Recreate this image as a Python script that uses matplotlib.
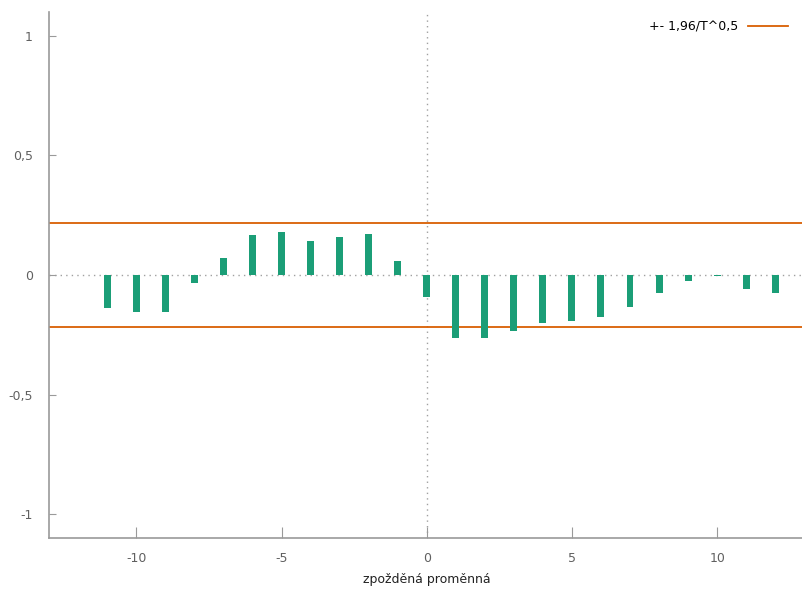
import matplotlib
matplotlib.use("Agg")
import matplotlib.pyplot as plt
from matplotlib.ticker import FuncFormatter

# Kreuzkorrelogramm (gretl-Stil)
zpozdeni = list(range(-11, 13))
korelace = [-0.140, -0.156, -0.155, -0.035, 0.070, 0.165, 0.181, 0.141,
            0.159, 0.170, 0.060, -0.091, -0.262, -0.262, -0.234, -0.202,
            -0.191, -0.174, -0.135, -0.074, -0.025, -0.003, -0.058, -0.074]
hranice = 0.218
popisek_hranice = "+- 1,96/T^0,5"

zelena = "#1b9e77"
oranzova = "#d95f02"
seda = "#9a9a9a"

plt.rcParams["font.family"] = ["DejaVu Sans"]
plt.rcParams["axes.unicode_minus"] = False
fig = plt.figure(figsize=(8.03, 5.90), dpi=100)
ax = fig.add_axes([0.0615, 0.088, 0.940, 0.892])

ax.bar(zpozdeni, korelace, width=0.24, color=zelena, zorder=3)
ax.axhline(hranice, color=oranzova, linewidth=1.3, zorder=2,
           label=popisek_hranice)
ax.axhline(-hranice, color=oranzova, linewidth=1.3, zorder=2)
ax.axhline(0, color="#a0a0a0", linewidth=1.0, linestyle=(0, (1, 3)), zorder=1)
ax.axvline(0, color="#a0a0a0", linewidth=1.0, linestyle=(0, (1, 3)), zorder=1)

ax.set_xlim(-13, 13)
ax.set_ylim(-1.1, 1.1)
ax.set_xticks([-10, -5, 0, 5, 10])
ax.set_yticks([-1, -0.5, 0, 0.5, 1])
ax.yaxis.set_major_formatter(
    FuncFormatter(lambda v, _: f"{v:g}".replace(".", ",")))

for s in ["top", "right"]:
    ax.spines[s].set_visible(False)
for s in ["left", "bottom"]:
    ax.spines[s].set_color(seda)
    ax.spines[s].set_linewidth(1.2)
ax.tick_params(direction="in", color=seda, labelcolor="#606060",
               labelsize=9)
ax.tick_params(axis="x", length=8, pad=10)
ax.tick_params(axis="y", length=5, pad=12)

ax.set_xlabel("zpožděná proměnná", fontsize=9, color="#222222", labelpad=6)

leg = ax.legend(loc="upper right", frameon=False, markerfirst=False,
                fontsize=9, handlelength=3.2, borderaxespad=0.3,
                bbox_to_anchor=(0.99, 1.0))

fig.savefig("out.png", dpi=100)
